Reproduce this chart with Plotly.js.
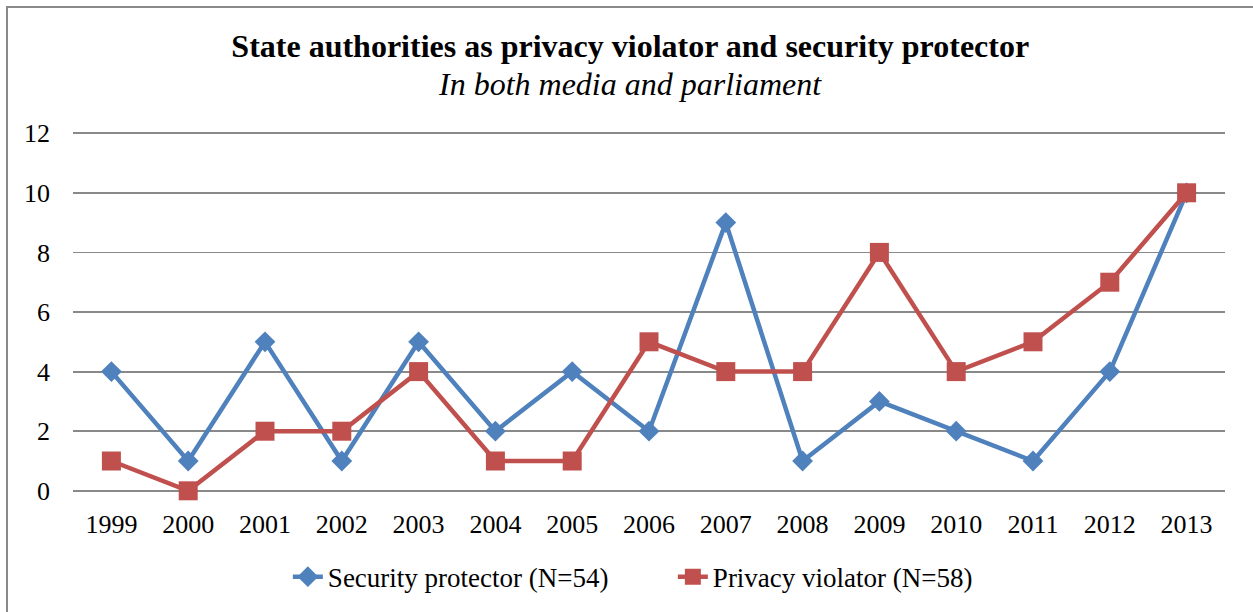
<!DOCTYPE html>
<html>
<head>
<meta charset="utf-8">
<script src="https://cdn.plot.ly/plotly-3.0.1.min.js"></script>
<style>html,body{margin:0;padding:0;background:#fff;}#chart{width:1253px;height:612px;}</style>
</head>
<body>
<div id="chart"></div>
<script>
const years = ['1999','2000','2001','2002','2003','2004','2005','2006','2007','2008','2009','2010','2011','2012','2013'];
const securityProtector = [4,1,5,1,5,2,4,2,9,1,3,2,1,4,10];
const privacyViolator = [1,0,2,2,4,1,1,5,4,4,8,4,5,7,10];
const seriesNames = ['Security protector (N=54)','Privacy violator (N=58)'];
const yTicks = [0,2,4,6,8,10,12];

const FONT = 'Liberation Serif, Times New Roman, serif';

// plot-area geometry in pixels (for converting page positions to paper coords)
const PL = 73, PR = 1225, PT = 132, PB = 492;
const px = v => (v - PL) / (PR - PL);
const py = v => (PB - v) / (PB - PT);

const traces = [
  {x: years, y: securityProtector, name: seriesNames[0], type: 'scatter', mode: 'lines+markers', cliponaxis: false,
   line: {color: '#4F81BD', width: 4.5}, marker: {symbol: 'diamond', size: 16, color: '#4F81BD'}},
  {x: years, y: privacyViolator, name: seriesNames[1], type: 'scatter', mode: 'lines+markers', cliponaxis: false,
   line: {color: '#C0504D', width: 4.5}, marker: {symbol: 'square', size: 19, color: '#C0504D'}}
];

const layout = {
  width: 1253, height: 612,
  margin: {l: 73, r: 28, t: 132, b: 120},
  paper_bgcolor: '#fff', plot_bgcolor: '#fff',
  font: {family: FONT, color: '#000', size: 26},
  title: {
    text: '<b>State authorities as privacy violator and security protector</b>',
    font: {family: FONT, size: 32, color: '#000'},
    xref: 'container', x: 0.503, xanchor: 'center',
    yref: 'container', y: 0.925, yanchor: 'middle'
  },
  annotations: [{
    text: '<i>In both media and parliament</i>', xref: 'paper', yref: 'paper',
    x: px(630), y: py(84), xanchor: 'center', yanchor: 'middle', showarrow: false,
    font: {family: FONT, size: 32, color: '#000'}
  }],
  xaxis: {
    type: 'category', range: [-0.5, 14.5], tickfont: {family: FONT, size: 26}, showgrid: false, zeroline: false,
    showline: false, ticks: '', ticklabelstandoff: 14, fixedrange: true
  },
  yaxis: {
    range: [-0.04, 12.04], tickvals: yTicks, tickfont: {family: FONT, size: 26},
    showgrid: true, gridcolor: '#898989', gridwidth: 1.8, zeroline: false, showline: false,
    ticks: '', ticklabelstandoff: 22, fixedrange: true
  },
  showlegend: true,
  legend: {
    orientation: 'h', xref: 'container', x: 0.537, xanchor: 'center', yref: 'container', y: 0.057, yanchor: 'middle',
    font: {family: FONT, size: 27}, traceorder: 'normal', entrywidth: 340, entrywidthmode: 'pixels'
  },
  shapes: [{
    type: 'rect', xref: 'paper', yref: 'paper',
    x0: px(7), x1: px(1275), y0: py(640), y1: py(7),
    line: {color: '#8a8a8a', width: 2}, fillcolor: 'rgba(0,0,0,0)', layer: 'below'
  }]
};

Plotly.newPlot('chart', traces, layout, {displayModeBar: false, staticPlot: true});
</script>
</body>
</html>
